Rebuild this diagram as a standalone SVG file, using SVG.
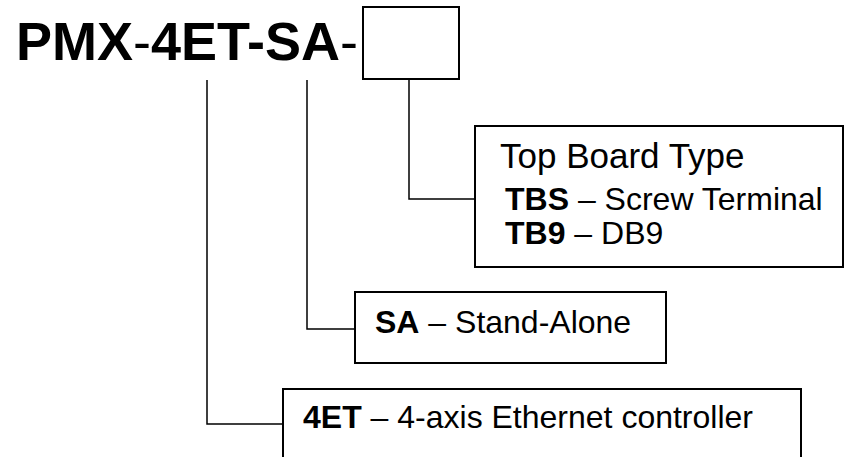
<svg xmlns="http://www.w3.org/2000/svg" width="848" height="457" viewBox="0 0 848 457">
<style>
.box{fill:#fff;stroke:#000;stroke-width:2}
.ln{fill:none;stroke:#000;stroke-width:1.5}
text{font-family:"Liberation Sans",Arial,sans-serif;fill:#000}
.b{font-weight:bold}
</style>
<rect width="848" height="457" fill="#fff"/>
<g id="title">
<text x="16" y="60" font-size="54"><tspan class="b">PMX</tspan>-<tspan class="b">4ET-SA</tspan>-</text>
</g>
<g id="suffix-box"><rect class="box" x="363" y="7" width="96" height="72"/></g>
<g id="connectors">
<polyline class="ln" points="409,80 409,199 475,199"/>
<polyline class="ln" points="307,80 307,329 354,329"/>
<polyline class="ln" points="207,80 207,424 283,424"/>
</g>
<g id="top-board">
<rect class="box" x="475" y="126" width="368" height="141"/>
<text x="500" y="168" font-size="35">Top Board Type</text>
<text x="505" y="210" font-size="32"><tspan class="b">TBS</tspan> – Screw Terminal</text>
<text x="505" y="244" font-size="32"><tspan class="b">TB9</tspan> – DB9</text>
</g>
<g id="sa">
<rect class="box" x="355" y="292" width="311" height="71"/>
<text x="375" y="333" font-size="32"><tspan class="b">SA</tspan> – Stand-Alone</text>
</g>
<g id="et">
<rect class="box" x="283" y="389" width="518" height="80"/>
<text x="303" y="428" font-size="32"><tspan class="b">4ET</tspan> – 4-axis Ethernet controller</text>
</g>
</svg>
